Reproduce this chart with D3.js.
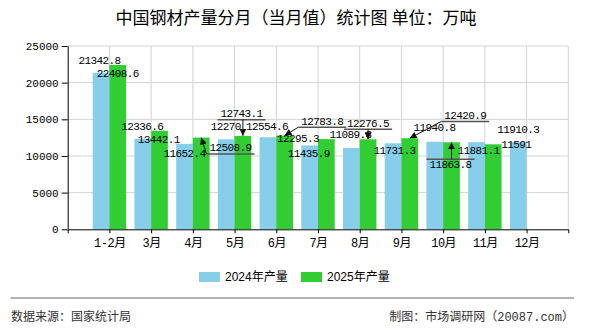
<!DOCTYPE html>
<html>
<head>
<meta charset="utf-8">
<script src="https://cdn.jsdelivr.net/npm/d3@7"></script>
<style>
  body { margin: 0; background: #fff; }
  svg { display: block; }
  .val { font-family: "Liberation Mono", "Noto Sans CJK SC", monospace; font-size: 11px; letter-spacing: -0.6px; fill: #000; }
  .tick text { font-family: "Liberation Mono", "Noto Sans CJK SC", monospace; font-size: 11px; fill: #000; }
</style>
</head>
<body>
<svg id="chart" width="590" height="330"></svg>
<script>
// 数据
const months = ["1-2月", "3月", "4月", "5月", "6月", "7月", "8月", "9月", "10月", "11月", "12月"];
const seriesNames = ["2024年产量", "2025年产量"];
const prod2024 = [21342.8, 12336.6, 11652.4, 12270, 12554.6, 11435.9, 11089.8, 11731.3, 11940.8, 11881.1, 11910.3];
const prod2025 = [22408.6, 13442.1, 12508.9, 12743.1, 12783.8, 12295.3, 12276.5, 12420.9, 11863.8, 11591];
const yTicks = [0, 5000, 10000, 15000, 20000, 25000];
const colors = ["#87CEEB", "#32CD32"];

// label placement (pixel nudges from the bar top, as the original avoided overlaps)
const shift2024 = [[-1.5, -12.8], [-0.6, -12.2], [0, 9.1], [-0.4, -13.3], [-1, -11.4], [-0.8, 7.4],
                   [-0.8, -13.5], [1.5, 6.9], [-0.2, -14.3], [2, 8.3], [-0.1, -13.2]];
const shift2025 = [[0, 8.5], [-0.7, 8.8], [29.3, 9.9], [-1.4, -22.6], [37.6, -14.8], [-28.3, -0.9],
                   [0, -16.5], [55.5, -23.2], [-0.9, 21.5], [23, 0.2]];
const leader2025 = [false, false, true, true, true, false, true, true, true, false];

const svg = d3.select("#chart");

const x = d3.scalePoint().domain(months).range([67.7, 568.3]).padding(1);
const xSub = d3.scaleBand().domain(seriesNames).range([-16.7, 16.7]);
const y = d3.scaleLinear().domain([0, 25000]).range([229.3, 46]);
const [xl, xr] = x.range();

// Title
svg.append("text")
  .attr("x", 296).attr("y", 24)
  .attr("text-anchor", "middle")
  .style("font-family", "'Noto Sans CJK SC', sans-serif")
  .style("font-size", "17px")
  .style("fill", "#000")
  .text("中国钢材产量分月（当月值）统计图 单位：万吨");

// Grid
const grid = svg.append("g").attr("stroke", "#d3d3d3").attr("stroke-width", 1);
grid.selectAll("line.h")
  .data(yTicks.slice(1))
  .join("line")
  .attr("class", "h")
  .attr("x1", xl).attr("x2", xr)
  .attr("y1", d => y(d)).attr("y2", d => y(d));
grid.selectAll("line.v")
  .data(months.map(m => x(m)).concat([xr]))
  .join("line")
  .attr("class", "v")
  .attr("x1", d => d).attr("x2", d => d)
  .attr("y1", y(25000)).attr("y2", y(0));

// Bars
const series = [prod2024, prod2025];
const bw = xSub.bandwidth();
series.forEach((vals, s) => {
  svg.append("g")
    .selectAll("rect")
    .data(vals)
    .join("rect")
    .attr("x", (d, i) => x(months[i]) + xSub(seriesNames[s]))
    .attr("y", d => y(d))
    .attr("width", bw)
    .attr("height", d => y(0) - y(d))
    .attr("fill", colors[s]);
});

// Axes
const yAxis = svg.append("g")
  .attr("transform", `translate(${xl},0)`)
  .call(d3.axisLeft(y).tickValues(yTicks).tickFormat(d3.format("d")).tickSize(6).tickSizeOuter(0).tickPadding(3));
const xAxis = svg.append("g")
  .attr("transform", `translate(0,${y(0)})`)
  .call(d3.axisBottom(x).tickSize(4).tickSizeOuter(4).tickPadding(5));
[yAxis, xAxis].forEach(g => {
  g.select(".domain").attr("stroke", "#000");
  g.selectAll(".tick line").attr("stroke", "#000");
  g.selectAll(".tick text").attr("font-family", null).attr("font-size", null);
});
xAxis.selectAll(".tick text").style("font-size", "12px").style("letter-spacing", "-0.5px");

// Arrow marker
svg.append("defs").append("marker")
  .attr("id", "arrow")
  .attr("viewBox", "0 0 10 10")
  .attr("refX", 10).attr("refY", 5)
  .attr("markerWidth", 7).attr("markerHeight", 7)
  .attr("markerUnits", "userSpaceOnUse")
  .attr("orient", "auto")
  .append("path")
  .attr("d", "M0,0L10,5L0,10z")
  .attr("fill", "#111");

// Value labels
const labelG = svg.append("g");
function drawLabels(vals, s, shifts, leaders) {
  vals.forEach((v, i) => {
    const px = x(months[i]) + xSub(seriesNames[s]) + bw / 2;
    const py = y(v);
    const cx = px + shifts[i][0];
    const cy = py + shifts[i][1];
    const t = labelG.append("text")
      .attr("class", "val")
      .attr("x", cx).attr("y", cy)
      .attr("dy", "0.35em")
      .attr("text-anchor", "middle")
      .text(v);
    if (leaders && leaders[i]) {
      const w = t.node().getComputedTextLength();
      const x0 = cx - w / 2 - 3, x1 = cx + w / 2 + 3;
      const inside = px >= x0 && px <= x1;
      const ly = inside && cy > py ? cy - 4.5 : cy + 6.5;
      labelG.append("line")
        .attr("x1", x0).attr("x2", x1)
        .attr("y1", ly).attr("y2", ly)
        .attr("stroke", "#555").attr("stroke-width", 1.5);
      const sx = Math.max(x0, Math.min(x1, px));
      labelG.append("line")
        .attr("x1", sx).attr("y1", ly)
        .attr("x2", px).attr("y2", py)
        .attr("stroke", "#111").attr("stroke-width", 1)
        .attr("marker-end", "url(#arrow)");
    }
  });
}
drawLabels(prod2024, 0, shift2024, null);
drawLabels(prod2025, 1, shift2025, leader2025);

// Legend
const legendX = [199, 301];
const legend = svg.append("g");
seriesNames.forEach((name, s) => {
  legend.append("rect")
    .attr("x", legendX[s]).attr("y", 272)
    .attr("width", 21).attr("height", 10)
    .attr("fill", colors[s]);
  legend.append("text")
    .attr("x", legendX[s] + 26).attr("y", 277)
    .attr("dy", "0.35em")
    .style("font-family", "'Liberation Sans', 'Noto Sans CJK SC', sans-serif")
    .style("font-size", "12px")
    .style("fill", "#000")
    .text(name);
});

// Footer
svg.append("line")
  .attr("x1", 10.5).attr("x2", 574)
  .attr("y1", 298).attr("y2", 298)
  .attr("stroke", "#999").attr("stroke-width", 1.5);
svg.append("text")
  .attr("x", 11).attr("y", 317).attr("dy", "0.35em")
  .style("font-family", "'Noto Sans CJK SC', sans-serif")
  .style("font-size", "12px").style("fill", "#333")
  .text("数据来源：国家统计局");
svg.append("text")
  .attr("x", 574).attr("y", 317).attr("dy", "0.35em")
  .attr("text-anchor", "end")
  .style("font-family", "'Liberation Mono', 'Noto Sans CJK SC', monospace")
  .style("font-size", "12px").style("fill", "#333")
  .text("制图：市场调研网（20087.com）");
</script>
</body>
</html>
